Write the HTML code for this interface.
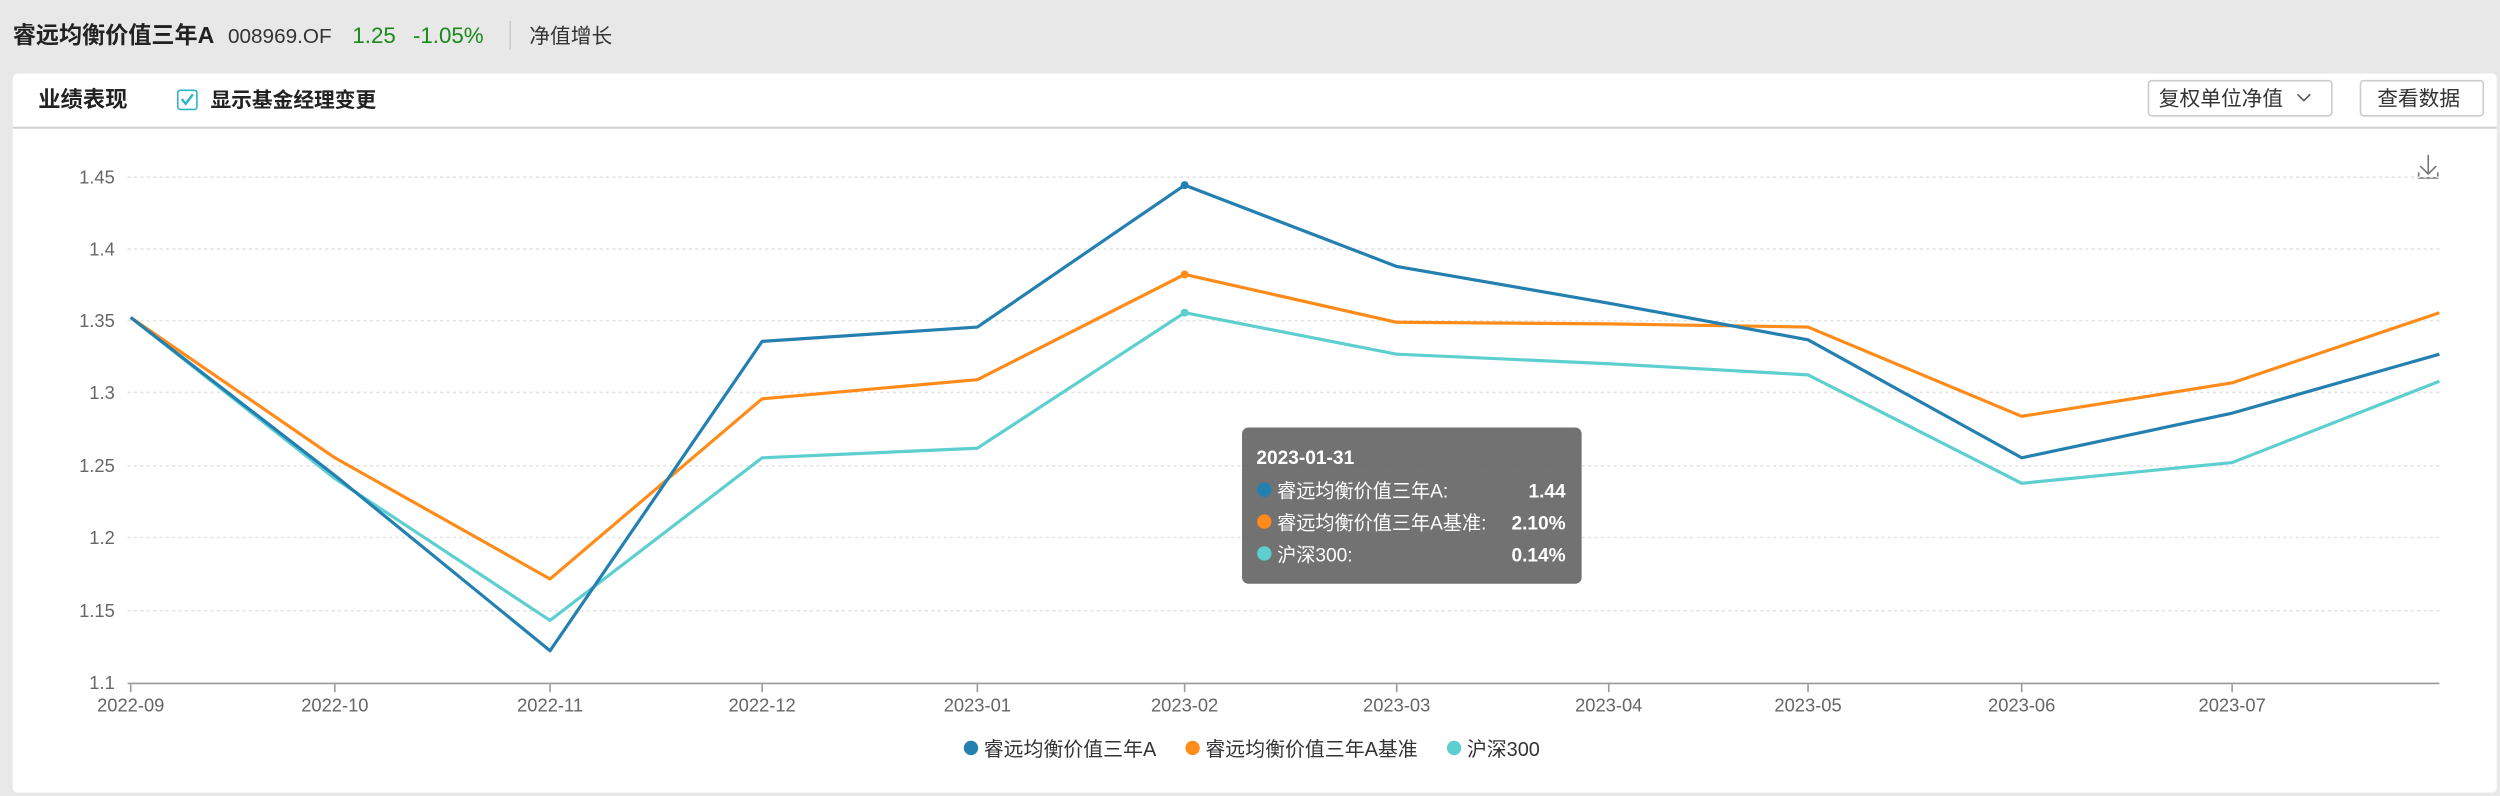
<!DOCTYPE html>
<html><head><meta charset="utf-8"><style>
html,body{margin:0;padding:0;width:2500px;height:796px;overflow:hidden;background:#e8e8e8}
svg{display:block}
text{font-family:"Liberation Sans","Noto Sans CJK SC",sans-serif}
</style></head><body>
<svg width="2500" height="796" viewBox="0 0 1568 499" xmlns="http://www.w3.org/2000/svg">
<rect x="0" y="0" width="1568" height="499" fill="#e8e8e8"/>
<text x="8" y="27" font-size="14.5" font-weight="bold" fill="#222">睿远均衡价值三年A</text>
<text x="143" y="27" font-size="13" fill="#333">008969.OF</text>
<text x="221" y="27" font-size="14" fill="#1a8a1a">1.25</text>
<text x="259" y="27" font-size="14" fill="#1a8a1a">-1.05%</text>
<line x1="320" y1="13" x2="320" y2="31" stroke="#ccc"/>
<text x="332" y="27" font-size="13" fill="#333">净值增长</text>
<rect x="8" y="46" width="1558" height="451" rx="3" fill="#fff"/>
<line x1="8" y1="80" x2="1566" y2="80" stroke="#d0d0d0" stroke-width="1.2"/>
<text x="24" y="67" font-size="14" font-weight="bold" fill="#222">业绩表现</text>
<rect x="111.5" y="56.5" width="12" height="12" rx="1.5" fill="#fff" stroke="#2bb3c9"/>
<path d="M114 62 l2.5 3 l4.5 -6" fill="none" stroke="#2bb3c9" stroke-width="1.5"/>
<text x="132" y="67" font-size="13" font-weight="bold" fill="#222">显示基金经理变更</text>
<rect x="1347.5" y="50.5" width="115" height="22" rx="2" fill="#fff" stroke="#ccc"/>
<text x="1354" y="66" font-size="13" fill="#333">复权单位净值</text>
<path d="M1441 59 l4 4 l4 -4" fill="none" stroke="#555" stroke-width="1"/>
<rect x="1480.5" y="50.5" width="77" height="22" rx="2" fill="#fff" stroke="#ccc"/>
<text x="1491" y="66" font-size="13" fill="#333">查看数据</text>
<path d="M1523 97 v12 M1518 104 l5 5 l5 -5 M1517 108 v3.5 h12 v-3.5" fill="none" stroke="#777" stroke-width="1"/>
<g stroke="#e4e4e4" stroke-dasharray="2,2" stroke-width="1">
<line x1="80" y1="111" x2="1530" y2="111"/><line x1="80" y1="156" x2="1530" y2="156"/>
<line x1="80" y1="201" x2="1530" y2="201"/><line x1="80" y1="246" x2="1530" y2="246"/>
<line x1="80" y1="292" x2="1530" y2="292"/><line x1="80" y1="337" x2="1530" y2="337"/>
<line x1="80" y1="383" x2="1530" y2="383"/>
</g>
<g font-size="11.5" fill="#666" text-anchor="end">
<text x="72" y="115">1.45</text><text x="72" y="160">1.4</text><text x="72" y="205">1.35</text>
<text x="72" y="250">1.3</text><text x="72" y="296">1.25</text><text x="72" y="341">1.2</text>
<text x="72" y="387">1.15</text><text x="72" y="432">1.1</text>
</g>
<line x1="80" y1="428.5" x2="1530" y2="428.5" stroke="#999" stroke-width="1"/>
<g stroke="#999" stroke-width="1">
<line x1="82" y1="429" x2="82" y2="434"/><line x1="210" y1="429" x2="210" y2="434"/><line x1="345" y1="429" x2="345" y2="434"/>
<line x1="478" y1="429" x2="478" y2="434"/><line x1="613" y1="429" x2="613" y2="434"/><line x1="743" y1="429" x2="743" y2="434"/>
<line x1="876" y1="429" x2="876" y2="434"/><line x1="1009" y1="429" x2="1009" y2="434"/><line x1="1134" y1="429" x2="1134" y2="434"/>
<line x1="1268" y1="429" x2="1268" y2="434"/><line x1="1400" y1="429" x2="1400" y2="434"/>
</g>
<g font-size="11.5" fill="#666" text-anchor="middle">
<text x="82" y="446">2022-09</text><text x="210" y="446">2022-10</text><text x="345" y="446">2022-11</text>
<text x="478" y="446">2022-12</text><text x="613" y="446">2023-01</text><text x="743" y="446">2023-02</text>
<text x="876" y="446">2023-03</text><text x="1009" y="446">2023-04</text><text x="1134" y="446">2023-05</text>
<text x="1268" y="446">2023-06</text><text x="1400" y="446">2023-07</text>
</g>
<g fill="none" stroke-width="2" stroke-linejoin="round">
<polyline stroke="#5ecfcf" points="82,199 210,300 345,389 478,287 613,281 743,196 876,222 1009,228 1134,235 1268,303 1400,290 1530,239"/>
<polyline stroke="#ff8c1a" points="82,199 210,287 345,363 478,250 613,238 743,172 876,202 1009,203 1134,205 1268,261 1400,240 1530,196"/>
<polyline stroke="#2380b0" points="82,199 210,298 345,408 478,214 613,205 743,116 876,167 1009,190 1134,213 1268,287 1400,259 1530,222"/>
</g>
<circle cx="743" cy="116" r="2.5" fill="#2380b0"/>
<circle cx="743" cy="172" r="2.5" fill="#ff8c1a"/>
<circle cx="743" cy="196" r="2.5" fill="#5ecfcf"/>
<rect x="779" y="268" width="213" height="98" rx="4" fill="rgba(95,95,95,0.88)"/>
<g font-size="12" fill="#fff">
<text x="788" y="291" font-weight="bold">2023-01-31</text>
<circle cx="793" cy="307" r="4.5" fill="#2380b0"/><text x="801" y="312">睿远均衡价值三年A:</text>
<text x="982" y="312" text-anchor="end" font-weight="bold">1.44</text>
<circle cx="793" cy="327" r="4.5" fill="#ff8c1a"/><text x="801" y="332">睿远均衡价值三年A基准:</text>
<text x="982" y="332" text-anchor="end" font-weight="bold">2.10%</text>
<circle cx="793" cy="347" r="4.5" fill="#5ecfcf"/><text x="801" y="352">沪深300:</text>
<text x="982" y="352" text-anchor="end" font-weight="bold">0.14%</text>
</g>
<g font-size="12.5" fill="#333">
<circle cx="609" cy="469" r="4.5" fill="#2380b0"/><text x="617" y="474">睿远均衡价值三年A</text>
<circle cx="748" cy="469" r="4.5" fill="#ff8c1a"/><text x="756" y="474">睿远均衡价值三年A基准</text>
<circle cx="912" cy="469" r="4.5" fill="#5ecfcf"/><text x="920" y="474">沪深300</text>
</g>
</svg>
</body></html>
